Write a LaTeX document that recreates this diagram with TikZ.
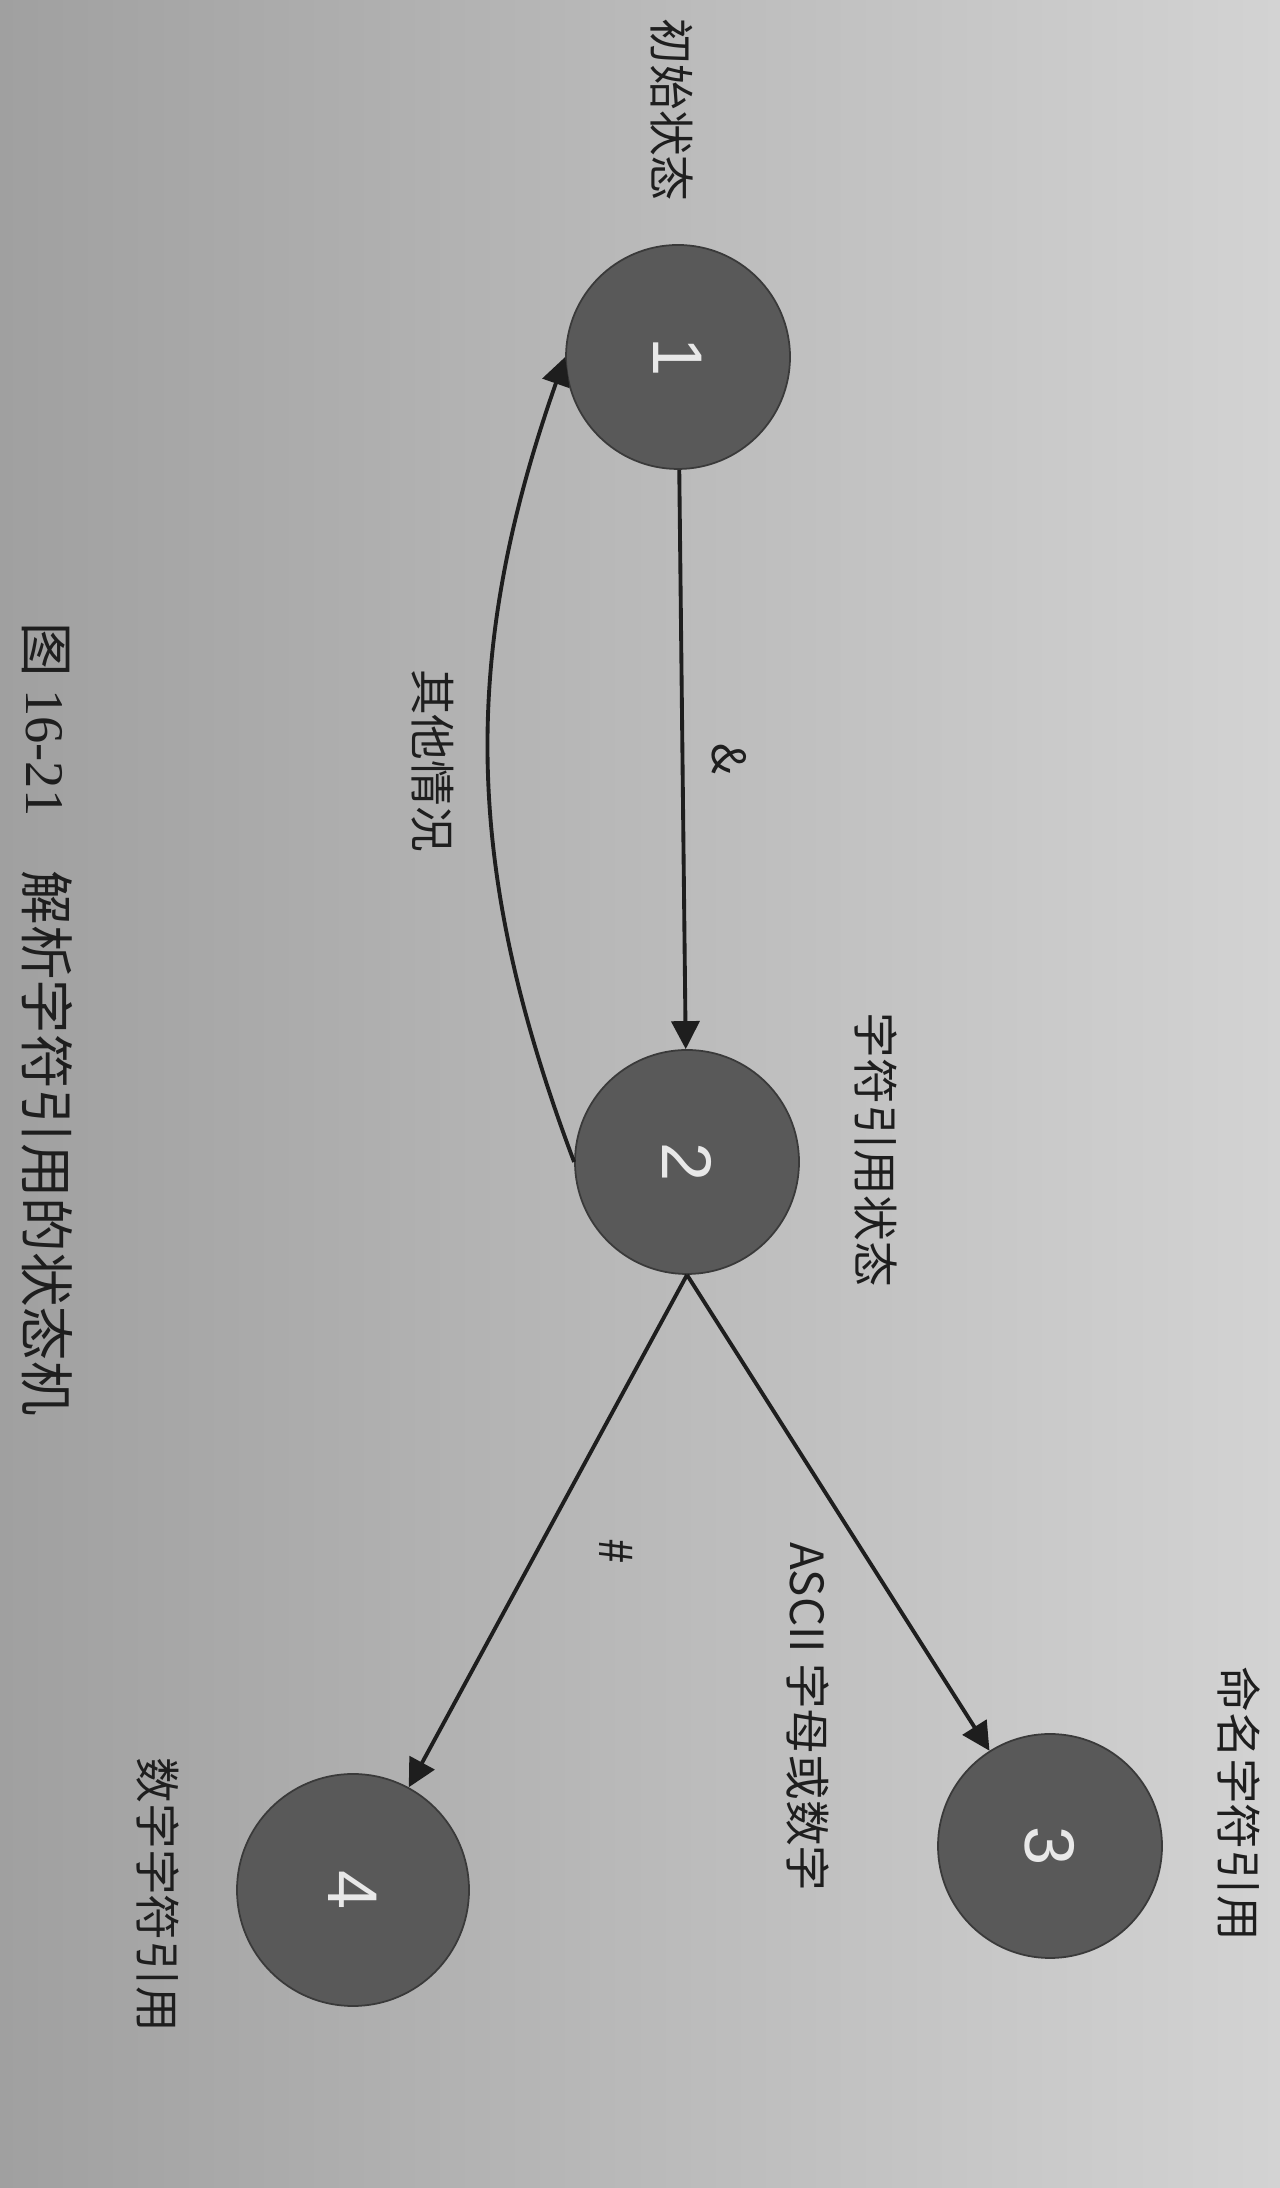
\documentclass[tikz,border=0pt]{standalone}
\usepackage{fontspec}
\setmainfont{Noto Sans CJK SC}
\newfontfamily\numfont{Liberation Sans}
\newfontfamily\capnum{Liberation Serif}
\usetikzlibrary{positioning,arrows.meta,calc}
\definecolor{paperl}{HTML}{A0A0A0}
\definecolor{paperm}{HTML}{C4C4C4}
\definecolor{paperr}{HTML}{D3D3D3}
\definecolor{sfill}{HTML}{595959}
\definecolor{sdraw}{HTML}{3A3A3A}
\definecolor{snum}{HTML}{E8E8E8}
\definecolor{ink}{HTML}{1E1E1E}
\newcommand\rnum[1]{\rotatebox{-90}{#1}}
\tikzset{
  st/.style={circle,fill=sfill,draw=sdraw,line width=.5pt,minimum size=22.4mm,inner sep=0pt,
             text=snum,font=\numfont\fontsize{20}{22}\selectfont},
  fl/.style={-{Triangle[length=2.8mm,width=2.8mm]},draw=ink,line width=1.1pt},
  lbl/.style={rotate=-90,text=ink,inner sep=0pt,font=\fontsize{13}{15}\selectfont},
  ttl/.style={rotate=-90,text=ink,inner sep=0pt,font=\fontsize{15.5}{17}\selectfont}
}

\begin{document}
\begin{tikzpicture}
\useasboundingbox (0,0) rectangle (12.8,21.88);
\shade[left color=paperl,middle color=paperm,right color=paperr] (0,0) rectangle (12.8,21.88);

% states
\node[st] (s1) at (6.78,18.31) {\rnum{1}};
\node[st] (s2) at (6.87,10.26) {\rnum{2}};
\node[st] (s3) at (10.50,3.42) {\rnum{3}};
\node[st,minimum size=23.2mm] (s4) at (3.53,2.98) {\rnum{4}};

\node[lbl,anchor=east] (t1) at ($(s1.north)+(-0.6mm,4.2mm)$) {初始状态};
\node[lbl,anchor=south] (t2) at ($(s2.east)+(5.4mm,1.2mm)$) {字符引用状态};
\node[lbl,anchor=south] (t3) at ($(s3.east)+(5.4mm,4.2mm)$) {命名字符引用};
\node[lbl,anchor=north] (t4) at ($(s4.west)+(-5.6mm,-0.5mm)$) {数字字符引用};

% transitions
\draw[fl] (s1) -- coordinate[midway] (m12) (s2);
\draw[fl] (s2.west) to[bend left=20] coordinate[pos=.5] (m21) (s1.west);
\draw[fl] (s2.south) -- coordinate[pos=.56] (m23) (s3);
\draw[fl] (s2.south) -- coordinate[pos=.54] (m24) (s4);

\node[lbl] (e12) at ($(m12)+(4.7mm,0)$) {\&};
\node[lbl] (e21) at ($(m21)+(-5.6mm,0)$) {其他情况};
\node[lbl,anchor=west] (e23) at ($(m23)+(-4.8mm,0)$) {ASCII 字母或数字};
\node[lbl] (e24) at ($(m24)+(7.9mm,0)$) {\#};

\node[ttl] (fig) at (0.47,11.69) {图 {\capnum 16-21}\hspace{1em}解析字符引用的状态机};
\end{tikzpicture}
\end{document}
